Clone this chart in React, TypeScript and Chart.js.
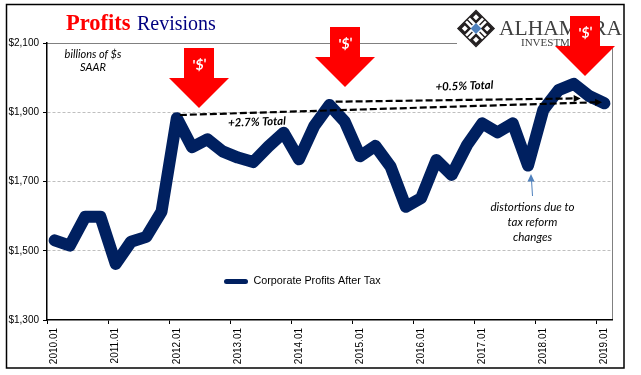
import React, { useEffect, useRef } from "react";
import { Chart, registerables } from "chart.js";

Chart.register(...registerables);

const categories = [
  "2010.01","2010.02","2010.03","2010.04","2011.01","2011.02","2011.03","2011.04",
  "2012.01","2012.02","2012.03","2012.04","2013.01","2013.02","2013.03","2013.04",
  "2014.01","2014.02","2014.03","2014.04","2015.01","2015.02","2015.03","2015.04",
  "2016.01","2016.02","2016.03","2016.04","2017.01","2017.02","2017.03","2017.04",
  "2018.01","2018.02","2018.03","2018.04","2019.01",
];
const profits = [
  1530,1515,1598,1598,1462,1526,1540,1613,
  1883,1799,1822,1787,1769,1756,1801,1841,
  1764,1860,1921,1873,1773,1803,1743,1627,
  1652,1762,1719,1805,1868,1842,1868,1746,
  1907,1964,1982,1947,1926,
];
const yTicks = [1300, 1500, 1700, 1900, 2100];
const trendTotal = [[8.2, 1892], [35.85, 1929]];
const trendRecent = [[18.4, 1930.5], [34.45, 1940]];
const redArrows = [[199, 48], [345, 27], [585, 16]];

const NAVY = "#002060";

function drawLogo(ctx: CanvasRenderingContext2D) {
  const cx = 476, cy = 28.5, r = 18;
  ctx.save();
  ctx.translate(cx, cy);
  ctx.rotate(Math.PI / 4);
  const s = r / Math.SQRT2;
  ctx.strokeStyle = "#231f20";
  ctx.lineWidth = 1.5;
  ctx.strokeRect(-s, -s, s * 2, s * 2);
  const k = s * 0.62;
  ctx.lineWidth = 2.4;
  [[-1, -1], [1, -1], [-1, 1], [1, 1]].forEach(([a, b]) => {
    ctx.strokeRect(a * k - k * 0.42, b * k - k * 0.42, k * 0.84, k * 0.84);
  });
  ctx.lineWidth = 1.4;
  ctx.beginPath();
  ctx.moveTo(-s, 0); ctx.lineTo(-s * 0.4, 0);
  ctx.moveTo(s, 0); ctx.lineTo(s * 0.4, 0);
  ctx.moveTo(0, -s); ctx.lineTo(0, -s * 0.4);
  ctx.moveTo(0, s); ctx.lineTo(0, s * 0.4);
  ctx.stroke();
  ctx.fillStyle = "#4f81bd";
  ctx.fillRect(-s * 0.3, -s * 0.3, s * 0.6, s * 0.6);
  ctx.restore();
  ctx.fillStyle = "#404040";
  ctx.textAlign = "left";
  ctx.textBaseline = "alphabetic";
  ctx.font = "21.5px 'Liberation Serif'";
  ctx.fillText("ALHAMBRA", 499, 35);
  ctx.font = "11px 'Liberation Serif'";
  ctx.fillText("INVESTMENTS", 521, 46);
}

function rotatedText(
  ctx: CanvasRenderingContext2D, text: string, x: number, y: number,
  font: string, color: string, deg: number,
) {
  ctx.save();
  ctx.translate(x, y);
  ctx.rotate((deg * Math.PI) / 180);
  ctx.font = font;
  ctx.fillStyle = color;
  ctx.textAlign = "center";
  ctx.textBaseline = "middle";
  ctx.fillText(text, 0, 0);
  ctx.restore();
}

function dashedArrow(chart: any, pts: number[][]) {
  const { ctx, scales } = chart;
  const x1 = scales.x.getPixelForValue(pts[0][0]);
  const y1 = scales.y.getPixelForValue(pts[0][1]);
  const x2 = scales.x.getPixelForValue(pts[1][0]);
  const y2 = scales.y.getPixelForValue(pts[1][1]);
  ctx.save();
  ctx.strokeStyle = "#000000";
  ctx.lineWidth = 2.2;
  ctx.setLineDash([7, 3]);
  ctx.beginPath();
  ctx.moveTo(x1, y1);
  ctx.lineTo(x2 - 4, y2);
  ctx.stroke();
  ctx.setLineDash([]);
  ctx.fillStyle = "#000000";
  ctx.beginPath();
  ctx.moveTo(x2, y2);
  ctx.lineTo(x2 - 7, y2 - 3.5);
  ctx.lineTo(x2 - 7, y2 + 3.5);
  ctx.closePath();
  ctx.fill();
  ctx.restore();
}

const overlay = {
  id: "overlay",
  afterLayout(chart: any) {
    const l = chart.legend;
    if (l) {
      l.left = 214;
      l.right = 394;
      l.top = 266;
      l.bottom = 294;
    }
  },
  beforeDraw(chart: any) {
    const { ctx, chartArea, scales } = chart;
    ctx.save();
    ctx.fillStyle = "#ffffff";
    ctx.fillRect(0, 0, chart.width, chart.height);
    ctx.strokeStyle = "#000000";
    ctx.lineWidth = 1.5;
    ctx.strokeRect(6.5, 4.5, 617.5, 363.5);
    ctx.restore();
    drawLogo(ctx);
    ctx.save();
    ctx.strokeStyle = "#808080";
    ctx.lineWidth = 1;
    const top = Math.round(scales.y.getPixelForValue(2100)) + 0.5;
    ctx.beginPath();
    ctx.moveTo(chartArea.left, top);
    ctx.lineTo(457, top);
    ctx.stroke();
    ctx.beginPath();
    ctx.moveTo(chartArea.right + 0.5, 46);
    ctx.lineTo(chartArea.right + 0.5, chartArea.bottom);
    ctx.stroke();
    ctx.restore();
  },
  afterDatasetsDraw(chart: any) {
    const { ctx } = chart;
    dashedArrow(chart, trendTotal);
    dashedArrow(chart, trendRecent);

    // Title
    ctx.save();
    ctx.textAlign = "left";
    ctx.textBaseline = "alphabetic";
    ctx.fillStyle = "#ff0000";
    ctx.font = "bold 22.5px 'Liberation Serif'";
    ctx.fillText("Profits", 66, 30);
    ctx.fillStyle = "#000080";
    ctx.font = "20px 'Liberation Serif'";
    ctx.fillText("Revisions", 137, 30);
    ctx.restore();

    // Notes
    const small = "italic 11px Lato";
    rotatedText(ctx, "billions of $s", 93, 54.5, small, "#000000", 0);
    rotatedText(ctx, "SAAR", 93, 67, small, "#000000", 0);
    const note = "italic 11.6px Lato";
    rotatedText(ctx, "distortions due to", 532.5, 207, note, "#000000", 0);
    rotatedText(ctx, "tax reform", 532.5, 222, note, "#000000", 0);
    rotatedText(ctx, "changes", 532.5, 237, note, "#000000", 0);
    const bold = "italic bold 11.5px Lato";
    rotatedText(ctx, "+2.7% Total", 257, 122, bold, "#000000", -2);
    rotatedText(ctx, "+0.5% Total", 464.5, 86, bold, "#000000", -2);

    // Small blue pointer
    ctx.save();
    ctx.strokeStyle = "#4f81bd";
    ctx.fillStyle = "#4f81bd";
    ctx.lineWidth = 1;
    ctx.beginPath();
    ctx.moveTo(532.5, 196);
    ctx.lineTo(531.5, 180);
    ctx.stroke();
    ctx.beginPath();
    ctx.moveTo(531, 174);
    ctx.lineTo(527.5, 181.5);
    ctx.lineTo(534.5, 181.5);
    ctx.closePath();
    ctx.fill();
    ctx.restore();

    // Red arrows
    redArrows.forEach(([cx, top]) => {
      ctx.save();
      ctx.fillStyle = "#ff0000";
      ctx.beginPath();
      ctx.moveTo(cx - 15, top);
      ctx.lineTo(cx + 15, top);
      ctx.lineTo(cx + 15, top + 30);
      ctx.lineTo(cx + 30, top + 30);
      ctx.lineTo(cx, top + 60);
      ctx.lineTo(cx - 30, top + 30);
      ctx.lineTo(cx - 15, top + 30);
      ctx.closePath();
      ctx.fill();
      ctx.restore();
      rotatedText(ctx, "'$'", cx + 0.5, top + 17, "italic bold 14px Lato", "#ffffff", -6);
    });
  },
};

export default function App() {
  const ref = useRef<HTMLCanvasElement>(null);
  useEffect(() => {
    const chart = new Chart(ref.current as HTMLCanvasElement, {
      type: "line",
      plugins: [overlay],
      data: {
        labels: categories,
        datasets: [
          {
            label: "Corporate Profits After Tax",
            data: profits,
            borderColor: NAVY,
            backgroundColor: NAVY,
            borderWidth: 12,
            borderCapStyle: "round",
            borderJoinStyle: "round",
            pointRadius: 0,
            tension: 0,
            fill: false,
          },
        ],
      },
      options: {
        animation: false,
        responsive: false,
        devicePixelRatio: 1,
        layout: { padding: { top: 43, right: 29, left: 0, bottom: 0 } },
        plugins: {
          title: { display: false },
          tooltip: { enabled: false },
          legend: {
            display: true,
            position: "chartArea",
            align: "start",
            labels: {
              boxWidth: 24,
              boxHeight: 5,
              padding: 10,
              color: "#000000",
              font: { family: "'Liberation Sans'", size: 10.8 },
              useBorderRadius: true,
              borderRadius: 2.5,
              generateLabels: (c: any) =>
                c.data.datasets.map((d: any, i: number) => ({
                  text: d.label,
                  fillStyle: NAVY,
                  strokeStyle: NAVY,
                  lineWidth: 0,
                  borderRadius: 2.5,
                  datasetIndex: i,
                  fontColor: "#000000",
                })),
            },
          },
        },
        scales: {
          x: {
            type: "category",
            offset: true,
            afterFit: (s: any) => { s.height = 55; },
            border: { color: "#000000", width: 1.5 },
            grid: {
              offset: true,
              drawOnChartArea: false,
              tickLength: 4,
              tickWidth: 1,
              tickColor: (c: any) => (c.index % 4 === 0 ? "#000000" : "rgba(0,0,0,0)"),
            },
            ticks: {
              autoSkip: false,
              minRotation: 90,
              maxRotation: 90,
              padding: 4,
              color: "#000000",
              font: { family: "'Liberation Sans'", size: 10 },
              callback: (_v: any, i: number) => (i % 4 === 0 ? categories[i] : ""),
            },
          },
          y: {
            type: "linear",
            min: 1300,
            max: 2100,
            afterFit: (s: any) => { s.width = 47; },
            afterBuildTicks: (s: any) => { s.ticks = yTicks.map((value) => ({ value })); },
            border: { color: "#000000", width: 1.5, dash: [3, 2] },
            grid: {
              drawOnChartArea: true,
              tickLength: 4,
              tickColor: "#000000",
              color: (c: any) =>
                c.tick && c.tick.value > 1300 && c.tick.value < 2100 ? "#bfbfbf" : "rgba(0,0,0,0)",
              lineWidth: 1,
            },
            ticks: {
              padding: 4,
              color: "#000000",
              font: { family: "'Liberation Sans'", size: 10 },
              callback: (v: any) => "$" + Number(v).toLocaleString("en-US"),
            },
          },
        },
      },
    } as any);
    return () => chart.destroy();
  }, []);
  return (
    <div style={{ position: "absolute", left: 0, top: 0, width: 641, height: 375, background: "#fff" }}>
      <canvas ref={ref} width={641} height={375} style={{ display: "block" }} />
    </div>
  );
}
